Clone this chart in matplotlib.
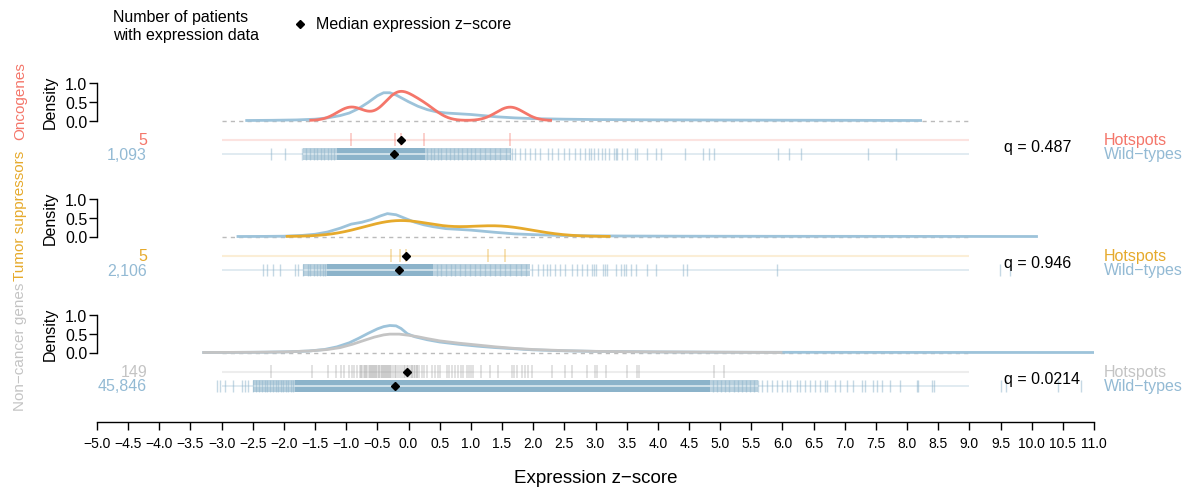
import numpy as np
import matplotlib
matplotlib.use("Agg")
import matplotlib.pyplot as plt
from matplotlib.lines import Line2D

plt.rcParams['font.family'] = ['Liberation Sans', 'DejaVu Sans']

# ---------------- data ----------------
groups = ["Oncogenes", "Tumor suppressors", "Non\u2212cancer genes"]
group_colors = ["#F4766A", "#E6AA2C", "#C4C4C4"]
hot_line_colors = ["#FCE3E0", "#FBEED6", "#EDEDED"]
hot_tick_colors = ["#F4766A", "#E6AA2C", "#8E8E8E"]
n_hot = ["5", "5", "149"]
n_wild = ["1,093", "2,106", "45,846"]
q_values = ["q = 0.487", "q = 0.946", "q = 0.0214"]

# hotspot expression z-scores
hot_onco = [-0.92, -0.22, -0.12, 0.24, 1.63]
hot_tsg = [-0.28, -0.13, -0.04, 1.27, 1.55]
hot_nc = [-2.21, -1.55, -1.30, -1.16, -1.08, -1.03, -0.95, -0.91, -0.87, -0.83,
          -0.78, -0.76, -0.75, -0.72, -0.70, -0.69, -0.67, -0.64, -0.62, -0.61,
          -0.59, -0.57, -0.55, -0.54, -0.52, -0.50, -0.48, -0.47, -0.45, -0.42,
          -0.41, -0.40, -0.38, -0.36, -0.35, -0.33, -0.31, -0.30, -0.28, -0.25,
          -0.22, -0.20, -0.17, -0.14, -0.11, -0.08, -0.05, -0.03, -0.01, 0.02,
          0.05, 0.06, 0.08, 0.11, 0.13, 0.14, 0.17, 0.21, 0.25, 0.29,
          0.37, 0.42, 0.47, 0.51, 0.61, 0.65, 0.70, 0.74, 0.79, 0.84,
          0.88, 0.93, 0.97, 1.01, 1.04, 1.17, 1.31, 1.43, 1.66, 1.70,
          1.74, 1.82, 1.87, 1.92, 1.98, 2.30, 2.51, 2.62, 2.86, 2.99,
          3.03, 3.17, 3.51, 3.67, 3.70, 4.90, 5.07]

# wild-type rug: individual ticks plus spans where ticks merge
wild_onco_ticks = [-2.20, -1.98, -1.71, -1.64, -1.58, -1.52, -1.47, -1.41, -1.36, -1.30,
                   -1.25, -1.20, 0.30, 0.36, 0.41, 0.47, 0.52, 0.60, 0.66, 0.73,
                   0.80, 0.86, 0.93, 1.00, 1.07, 1.14, 1.22, 1.30, 1.38, 1.47,
                   1.56, 1.63, 1.66, 1.71, 1.79, 1.87, 1.95, 2.03, 2.11, 2.23,
                   2.30, 2.40, 2.49, 2.57, 2.67, 2.75, 2.83, 2.89, 2.93, 2.98,
                   3.04, 3.10, 3.16, 3.21, 3.29, 3.33, 3.35, 3.42, 3.50, 3.64,
                   3.67, 3.83, 3.97, 4.05, 4.44, 4.72, 4.82, 4.90, 5.93, 6.11,
                   6.30, 7.37, 7.82]
wild_onco_core = [(-1.15, 0.26)]
wild_onco_shoulder = [(-1.70, -1.15), (0.26, 1.65)]

wild_tsg_ticks = [-2.33, -2.27, -2.17, -2.06, -1.83, -1.78, -1.69, -1.62, -1.58, -1.52,
                  -1.47, -1.42, -1.38, -1.34, 0.45, 0.52, 0.60, 0.68, 0.75, 0.83,
                  0.90, 0.98, 1.06, 1.14, 1.22, 1.30, 1.38, 1.46, 1.55, 1.63,
                  1.72, 1.80, 1.88, 1.98, 2.08, 2.16, 2.22, 2.27, 2.35, 2.43,
                  2.51, 2.62, 2.70, 2.78, 2.86, 2.94, 2.97, 3.01, 3.12, 3.15,
                  3.18, 3.33, 3.41, 3.45, 3.49, 3.57, 3.65, 3.83, 3.97, 4.41,
                  4.47, 5.92, 9.49, 9.65]
wild_tsg_core = [(-1.31, 0.40)]
wild_tsg_shoulder = [(-1.70, -1.31), (0.40, 1.95)]

wild_nc_ticks = [-3.08, -3.02, -2.95, -2.82, -2.68, -2.62, -2.57, -2.50, -2.45, -2.40,
                 -2.36, -2.31, -2.27, -2.22, -2.18, -2.13, -2.09, -2.05, -2.01, -1.97,
                 -1.93, -1.89, -1.85, 4.89, 4.95, 5.02, 5.08, 5.15, 5.22, 5.28,
                 5.35, 5.42, 5.48, 5.55, 5.61, 5.67, 5.75, 5.83, 5.91, 5.99,
                 6.07, 6.12, 6.23, 6.28, 6.36, 6.44, 6.52, 6.60, 6.68, 6.72,
                 6.84, 6.93, 7.03, 7.14, 7.27, 7.33, 7.46, 7.51, 7.59, 7.73,
                 7.89, 8.16, 8.18, 8.40, 8.43, 9.50, 9.59, 10.43, 10.79]
wild_nc_core = [(-1.82, 4.84)]
wild_nc_shoulder = [(-2.50, -1.82), (4.84, 5.60)]

# median expression z-scores (hotspot, wild-type)
median_hot = [-0.12, -0.04, -0.03]
median_wild = [-0.24, -0.15, -0.21]

# wild-type density curves
dens_onco_x = [-2.62, -2.2, -1.8, -1.5, -1.3, -1.1, -0.95, -0.8, -0.65, -0.5,
               -0.4, -0.3, -0.2, -0.1, 0.0, 0.15, 0.3, 0.45, 0.6, 0.8,
               1.0, 1.2, 1.4, 1.7, 2.0, 2.5, 3.0, 4.0, 5.0, 6.0, 7.0, 8.24]
dens_onco_y = [0.0, 0.005, 0.015, 0.035, 0.07, 0.13, 0.2, 0.32, 0.48, 0.66,
               0.74, 0.74, 0.68, 0.59, 0.50, 0.38, 0.29, 0.23, 0.20, 0.18,
               0.16, 0.13, 0.10, 0.07, 0.05, 0.035, 0.025, 0.017, 0.012, 0.008, 0.005, 0.0]
dens_tsg_x = [-2.76, -2.3, -2.0, -1.7, -1.5, -1.3, -1.1, -0.92, -0.75, -0.6,
              -0.45, -0.34, -0.2, -0.05, 0.1, 0.25, 0.4, 0.6, 0.8, 1.0,
              1.2, 1.4, 1.7, 2.0, 2.4, 2.8, 3.5, 4.5, 6.0, 8.0, 10.1]
dens_tsg_y = [0.0, 0.003, 0.008, 0.03, 0.06, 0.12, 0.22, 0.33, 0.38, 0.45,
              0.55, 0.61, 0.58, 0.48, 0.38, 0.31, 0.26, 0.21, 0.19, 0.17,
              0.14, 0.11, 0.07, 0.05, 0.03, 0.02, 0.012, 0.008, 0.005, 0.003, 0.0]
dens_nc_x = [-3.31, -2.8, -2.3, -1.9, -1.6, -1.35, -1.15, -0.95, -0.8, -0.65,
             -0.5, -0.4, -0.3, -0.2, -0.12, -0.02, 0.1, 0.3, 0.5, 0.8,
             1.1, 1.4, 1.7, 2.0, 2.5, 3.0, 4.0, 5.0, 6.0, 8.0, 11.0]
dens_nc_y = [0.0, 0.003, 0.008, 0.02, 0.04, 0.08, 0.15, 0.26, 0.38, 0.51,
             0.63, 0.69, 0.72, 0.71, 0.64, 0.50, 0.42, 0.34, 0.28, 0.22,
             0.17, 0.13, 0.10, 0.07, 0.045, 0.03, 0.015, 0.008, 0.005, 0.002, 0.0]
# non-cancer hotspot density
dens_nc_hot_x = [-3.31, -2.5, -2.0, -1.6, -1.3, -1.1, -0.9, -0.7, -0.55, -0.4,
                 -0.3, -0.15, 0.0, 0.15, 0.3, 0.5, 0.8, 1.1, 1.4, 1.7,
                 2.0, 2.5, 3.0, 4.0, 5.0, 6.0]
dens_nc_hot_y = [0.0, 0.005, 0.015, 0.04, 0.08, 0.13, 0.22, 0.33, 0.41, 0.47,
                 0.49, 0.49, 0.46, 0.42, 0.37, 0.31, 0.25, 0.20, 0.15, 0.11,
                 0.08, 0.05, 0.03, 0.015, 0.007, 0.0]

x_ticks = np.arange(-5.0, 11.01, 0.5)
rug_range = (-3.0, 9.0)

WILD_BLUE = "#8CB3CA"
WILD_CURVE = "#9DC3DA"
WILD_TEXT = "#93BAD4"
WILD_LINE = "#DCE8EF"


def kde_nrd0(values, n=512, cut=3):
    v = np.asarray(values, float)
    sd = v.std(ddof=1)
    iqr = np.percentile(v, 75) - np.percentile(v, 25)
    lo = min(sd, iqr / 1.34)
    bw = 0.9 * lo * len(v) ** -0.2
    grid = np.linspace(v.min() - cut * bw, v.max() + cut * bw, n)
    d = np.exp(-0.5 * ((grid[:, None] - v[None, :]) / bw) ** 2).sum(1)
    return grid, d / (len(v) * bw * np.sqrt(2 * np.pi))


# ---------------- layout ----------------
W, H = 1186, 489
fig = plt.figure(figsize=(W / 100, H / 100), dpi=100)
L, R = 97, 1094
XLIM = (-5, 11)


def add_axes_px(top, bottom):
    return fig.add_axes([L / W, 1 - bottom / H, (R - L) / W, (bottom - top) / H])


def fig_xy(x, y):
    return x / W, 1 - y / H


FS = 11.5
step = 116
label_centers = [101, 216, 347]

dens_wild = [(dens_onco_x, dens_onco_y), (dens_tsg_x, dens_tsg_y), (dens_nc_x, dens_nc_y)]
hot_vals = [hot_onco, hot_tsg, hot_nc]
wild_ticks = [wild_onco_ticks, wild_tsg_ticks, wild_nc_ticks]
wild_core = [wild_onco_core, wild_tsg_core, wild_nc_core]
wild_shoulder = [wild_onco_shoulder, wild_tsg_shoulder, wild_nc_shoulder]

for k in range(3):
    off = step * k
    y0, y1 = 121.5 + off, 84 + off
    ppu = y0 - y1
    ax = add_axes_px(y1 - 0.15 * ppu, y0 + 0.15 * ppu)
    ax.set_xlim(*XLIM)
    ax.set_ylim(-0.15, 1.15)
    for s in ["top", "right", "bottom"]:
        ax.spines[s].set_visible(False)
    ax.spines["left"].set_bounds(0, 1)
    ax.spines["left"].set_linewidth(1.0)
    ax.set_xticks([])
    ax.set_yticks([0, 0.5, 1.0])
    ax.set_yticklabels(["0.0", "0.5", "1.0"], fontsize=FS)
    ax.tick_params(axis="y", length=6, width=1.0, pad=1)
    ax.patch.set_alpha(0)
    ax.hlines(0, *rug_range, colors="#BBBBBB", linestyles=(0, (3, 3)), lw=1.0)
    wx, wy = dens_wild[k]
    ax.plot(wx, wy, color=WILD_CURVE, lw=2.0, solid_capstyle="butt")
    if k < 2:
        gx, gy = kde_nrd0(hot_vals[k])
    else:
        gx, gy = dens_nc_hot_x, dens_nc_hot_y
    ax.plot(gx, gy, color=group_colors[k], lw=2.0, solid_capstyle="butt")

    fig.text(*fig_xy(50, (y0 + y1) / 2), "Density", rotation=90, ha="center",
             va="center", fontsize=FS)
    fig.text(*fig_xy(20, label_centers[k]), groups[k], rotation=90,
             ha="center", va="center", fontsize=11, color=group_colors[k])

    # rug panel
    rh, rw = 140.7 + off, 155.0 + off
    sp = rw - rh
    rax = add_axes_px(rh - 0.6 * sp, rw + 0.6 * sp)
    rax.set_xlim(*XLIM)
    rax.set_ylim(1.6, -0.6)
    rax.axis("off")
    rax.hlines([0], *rug_range, colors=hot_line_colors[k], lw=1.5)
    rax.hlines([1], *rug_range, colors=WILD_LINE, lw=1.2)
    for a, b in wild_shoulder[k]:
        rax.fill_between([a, b], 1 - 0.44, 1 + 0.44, color=WILD_BLUE, alpha=0.6, lw=0)
    for a, b in wild_core[k]:
        rax.fill_between([a, b], 1 - 0.44, 1 + 0.44, color=WILD_BLUE, lw=0)
    rax.vlines(wild_ticks[k], 1 - 0.44, 1 + 0.44, colors=WILD_BLUE, lw=1.0, alpha=0.5)
    hot_alpha = 0.4 if k < 2 else 0.3
    rax.vlines(hot_vals[k], -0.44, 0.44, colors=hot_tick_colors[k], lw=1.2, alpha=hot_alpha)
    rax.plot([median_hot[k], median_wild[k]], [0, 1], ls="none", marker="D",
             ms=4.3, color="black")

    fig.text(*fig_xy(147, rh), n_hot[k], ha="right", va="center", fontsize=FS,
             color=group_colors[k])
    fig.text(*fig_xy(147, rw), n_wild[k], ha="right", va="center", fontsize=FS,
             color=WILD_TEXT)
    fig.text(*fig_xy(1004, (rh + rw) / 2), q_values[k], ha="left", va="center",
             fontsize=FS, color="black")
    fig.text(*fig_xy(1104, rh), "Hotspots", ha="left", va="center", fontsize=FS,
             color=group_colors[k])
    fig.text(*fig_xy(1104, rw), "Wild\u2212types", ha="left", va="center",
             fontsize=FS, color=WILD_TEXT)

# bottom x axis
xax = add_axes_px(410, 423)
xax.set_xlim(*XLIM)
xax.set_ylim(0, 1)
for s in ["top", "right", "left"]:
    xax.spines[s].set_visible(False)
xax.spines["bottom"].set_linewidth(1.0)
xax.set_yticks([])
xax.set_xticks(x_ticks)
xax.set_xticklabels([f"{t:.1f}".replace("-", "\u2212") for t in x_ticks],
                    fontsize=10, family=["Liberation Sans Narrow", "Liberation Sans"])
xax.tick_params(axis="x", length=6, width=1.0, pad=4)
xax.patch.set_alpha(0)
fig.text(*fig_xy(596, 479), "Expression z\u2212score", ha="center", va="center",
         fontsize=13.5)

# legend
fig.text(*fig_xy(113, 26.5), "Number of patients\nwith expression data", ha="left",
         va="center", fontsize=FS, linespacing=1.2)
fig.lines.append(Line2D([300 / W], [1 - 25 / H], ls="none", marker="D",
                        ms=4.3, color="black", transform=fig.transFigure))
fig.text(*fig_xy(316, 25), "Median expression z\u2212score", ha="left", va="center",
         fontsize=FS)

fig.savefig("out.png", dpi=100)
